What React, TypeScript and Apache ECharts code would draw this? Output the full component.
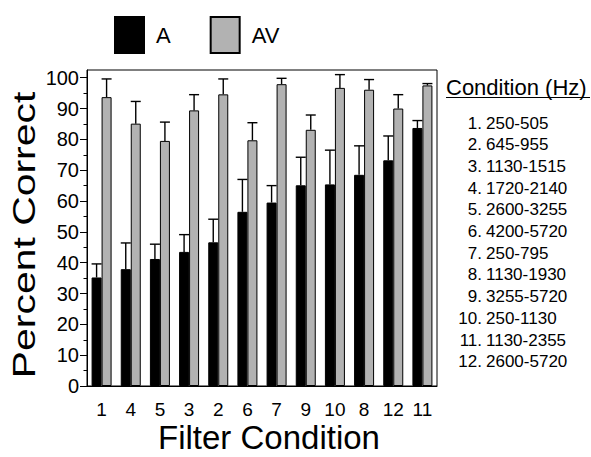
import React, { useEffect, useRef } from "react";
import * as echarts from "echarts";

const categories = ["1", "4", "5", "3", "2", "6", "7", "9", "10", "8", "12", "11"];
const aValues = [35.2, 37.9, 41.2, 43.5, 46.6, 56.5, 59.5, 65.1, 65.4, 68.5, 73.2, 83.7];
const aErr = [4.4, 8.5, 4.8, 5.6, 7.5, 10.5, 5.5, 9.1, 11.1, 9.4, 7.9, 2.4];
const avValues = [93.7, 85.1, 79.5, 89.4, 94.6, 79.7, 97.9, 83.1, 96.7, 96.1, 90.0, 97.5];
const avErr = [5.9, 7.2, 6.1, 5.1, 5.0, 5.7, 1.9, 4.8, 4.3, 3.3, 4.5, 0.6];
const majorTicks = [0, 10, 20, 30, 40, 50, 60, 70, 80, 90, 100];
const minorTicks = [5, 15, 25, 35, 45, 55, 65, 75, 85, 95];
const conditionNumbers = ["1.", "2.", "3.", "4.", "5.", "6.", "7.", "8.", "9.", "10.", "11.", "12."];
const conditionRanges = [
  "250-505", "645-955", "1130-1515", "1720-2140", "2600-3255", "4200-5720",
  "250-795", "1130-1930", "3255-5720", "250-1130", "1130-2355", "2600-5720",
];

const FONT = "Liberation Sans, Arial, Helvetica, sans-serif";

function errorSeries(name: string, values: number[], errs: number[], offset: number) {
  return {
    type: "custom",
    name,
    z: 10,
    data: categories.map((_, i) => [i, values[i], errs[i]]),
    renderItem: (_params: any, api: any) => {
      const x = api.value(0);
      const v = api.value(1);
      const e = api.value(2);
      const p0 = api.coord([x, v]);
      const p1 = api.coord([x, v + e]);
      const cx = p0[0] + offset;
      const st = { stroke: "#000", lineWidth: 1.4 };
      return {
        type: "group",
        children: [
          { type: "line", shape: { x1: cx, y1: p0[1], x2: cx, y2: p1[1] }, style: st },
          { type: "line", shape: { x1: cx - 5, y1: p1[1], x2: cx + 5, y2: p1[1] }, style: st },
        ],
      };
    },
  };
}

export default function App() {
  const ref = useRef<HTMLDivElement>(null);
  useEffect(() => {
    if (!ref.current) return;
    const chart = echarts.init(ref.current, undefined, { renderer: "svg" });
    const listGraphics: any[] = [];
    conditionNumbers.forEach((n, i) => {
      const y = 123.3 + i * 21.67;
      listGraphics.push({
        type: "text",
        x: 482,
        y,
        style: { text: n, font: `17px ${FONT}`, fill: "#000", textAlign: "right", textVerticalAlign: "middle" },
      });
      listGraphics.push({
        type: "text",
        x: 486,
        y,
        style: { text: conditionRanges[i], font: `17px ${FONT}`, fill: "#000", textAlign: "left", textVerticalAlign: "middle" },
      });
    });
    chart.setOption({
      animation: false,
      backgroundColor: "#fff",
      textStyle: { fontFamily: FONT },
      legend: {
        data: ["A", "AV"],
        left: 114,
        top: 16,
        padding: 0,
        itemWidth: 29,
        itemHeight: 36,
        itemGap: 39,
        icon: "rect",
        textStyle: { fontSize: 22, color: "#000", fontFamily: FONT, padding: [8, 0, 0, 7] },
      },
      grid: {
        left: 87,
        right: 154,
        top: 70,
        bottom: 71,
        show: true,
        borderColor: "#000",
        borderWidth: 1,
        backgroundColor: "transparent",
      },
      xAxis: {
        type: "category",
        data: categories,
        axisLine: { lineStyle: { color: "#000", width: 1 } },
        axisTick: { length: 10, lineStyle: { color: "#000", width: 1 } },
        axisLabel: { fontSize: 19, color: "#000", margin: 14, fontFamily: FONT, interval: 0 },
      },
      yAxis: [
        {
          type: "value",
          min: 0,
          max: 102.5,
          interval: 10,
          splitLine: { show: false },
          axisLine: { show: true, lineStyle: { color: "#000", width: 1 } },
          axisTick: { show: true, length: 7, customValues: majorTicks, lineStyle: { color: "#000", width: 1 } },
          axisLabel: { fontSize: 20, color: "#000", margin: 8, fontFamily: FONT, customValues: majorTicks },
        },
        {
          type: "value",
          position: "left",
          min: 0,
          max: 102.5,
          interval: 10,
          splitLine: { show: false },
          axisLine: { show: false },
          axisLabel: { show: false },
          axisTick: { show: true, length: 3.5, customValues: minorTicks, lineStyle: { color: "#000", width: 1 } },
        },
      ],
      series: [
        {
          type: "bar",
          name: "A",
          data: aValues,
          barWidth: 10,
          barGap: "0%",
          itemStyle: { color: "#000", borderColor: "#000", borderWidth: 1 },
        },
        {
          type: "bar",
          name: "AV",
          data: avValues,
          barWidth: 10,
          barGap: "0%",
          itemStyle: { color: "#b2b2b2", borderColor: "#000", borderWidth: 1 },
        },
        errorSeries("A error", aValues, aErr, -5),
        errorSeries("AV error", avValues, avErr, 5),
      ],
      graphic: [
        {
          type: "text",
          x: 24,
          y: 235,
          rotation: Math.PI / 2,
          scaleX: 1.32,
          style: {
            text: "Percent Correct",
            font: `31px ${FONT}`,
            fill: "#000",
            textAlign: "center",
            textVerticalAlign: "middle",
          },
        },
        {
          type: "text",
          x: 269,
          y: 437,
          style: {
            text: "Filter Condition",
            font: `33px ${FONT}`,
            fill: "#000",
            textAlign: "center",
            textVerticalAlign: "middle",
          },
        },
        {
          type: "text",
          x: 446,
          y: 87,
          style: {
            text: "Condition (Hz)",
            font: `22px ${FONT}`,
            fill: "#000",
            textAlign: "left",
            textVerticalAlign: "middle",
          },
        },
        {
          type: "line",
          shape: { x1: 446, y1: 97.5, x2: 590, y2: 97.5 },
          style: { stroke: "#000", lineWidth: 1 },
        },
        ...listGraphics,
      ],
    });
    return () => chart.dispose();
  }, []);
  return (
    <div
      ref={ref}
      style={{ position: "absolute", left: 0, top: 0, width: 591, height: 457 }}
    />
  );
}
